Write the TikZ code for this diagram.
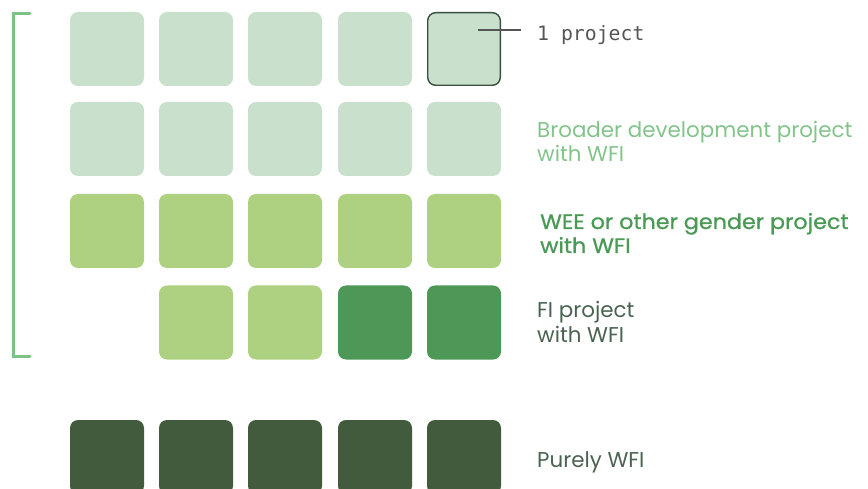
\documentclass[tikz,border=0pt]{standalone}
\usepackage{fontspec}
\setmainfont{Poppins}
\setmonofont{DejaVu Sans Mono}
\newfontfamily\semib[FakeBold=0.9,FakeStretch=1.06]{Poppins}
\definecolor{cpale}{HTML}{C9E0CC}
\definecolor{clime}{HTML}{AED181}
\definecolor{cgreen}{HTML}{4D9856}
\definecolor{cdark}{HTML}{435B3D}
\definecolor{cbracket}{HTML}{7DC385}
\definecolor{tlight}{HTML}{82C48A}
\definecolor{tmid}{HTML}{4A9A55}
\definecolor{tdark}{HTML}{4A6350}
\definecolor{tgrey}{HTML}{555555}
\begin{document}
\begin{tikzpicture}[x=1pt,y=-1pt,
  sq/.style={minimum width=74pt,minimum height=74pt,rounded corners=8pt,inner sep=0pt,draw=none},
  lbl/.style={anchor=base west,inner sep=0pt,font=\fontsize{21.4}{24.5}\selectfont,align=left}]
\useasboundingbox (0,0) rectangle (868,489);
\clip (0,0) rectangle (868,489);
% row 1
\foreach \c/\x in {1/107,2/196,3/285,4/375}{
  \node[sq,fill=cpale] (a\c) at (\x,49) {};
}
\node[sq,fill=cpale,draw=tdark!80!black,line width=1.4pt,minimum width=72.6pt,minimum height=72.6pt] (a5) at (464,49) {};
% row 2
\foreach \c/\x in {1/107,2/196,3/285,4/375,5/464}{
  \node[sq,fill=cpale] (b\c) at (\x,139) {};
}
% row 3
\foreach \c/\x in {1/107,2/196,3/285,4/375,5/464}{
  \node[sq,fill=clime] (c\c) at (\x,231) {};
}
% row 4
\foreach \c/\x in {2/196,3/285}{
  \node[sq,fill=clime] (d\c) at (\x,322.5) {};
}
\foreach \c/\x in {4/375,5/464}{
  \node[sq,fill=cgreen] (d\c) at (\x,322.5) {};
}
% row 5
\foreach \c/\x in {1/107,2/196,3/285,4/375,5/464}{
  \node[sq,fill=cdark] (e\c) at (\x,457) {};
}
% bracket
\coordinate (bt) at (30,14);
\coordinate (bb) at (30,356);
\draw[cbracket,line width=3pt,line cap=round,line join=miter] (bt) -- (13.5,14) -- (13.5,356) -- (bb);
% pointer
\coordinate (pstart) at (478,30);
\coordinate (pend) at (521,30);
\draw[tgrey,line width=1.3pt] (pstart) -- (pend);
\node[anchor=base west,inner sep=0pt,text=tgrey,font=\ttfamily\fontsize{19.8}{24}\selectfont] (t1) at (537,41) {1 project};
% labels (anchor at baseline of last line)
\node[lbl,text=tlight] (t2) at (537,162) {Broader development project\\with WFI};
\node[lbl,text=tmid,font=\fontsize{21}{24}\semib] (t3) at (540,253) {WEE or other gender project\\with WFI};
\node[lbl,text=tdark] (t4) at (537,342) {FI project\\with WFI};
\node[lbl,text=tdark] (t5) at (537,467) {Purely WFI};
\end{tikzpicture}
\end{document}
